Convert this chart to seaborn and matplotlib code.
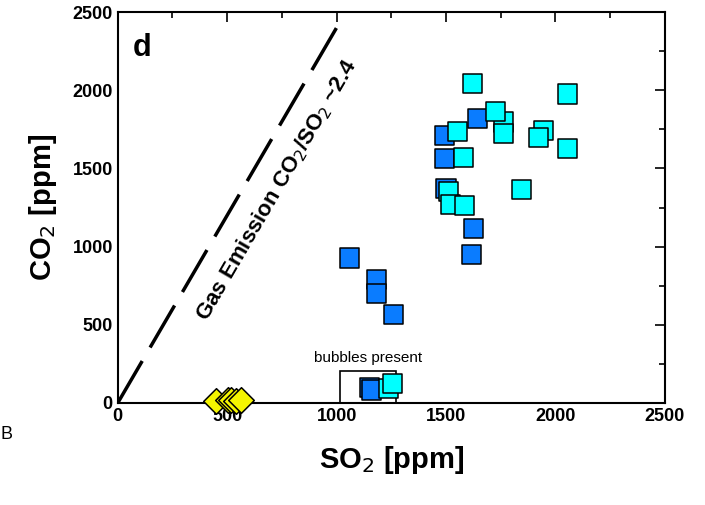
import numpy as np
import pandas as pd
import matplotlib.pyplot as plt
import seaborn as sns
from matplotlib.ticker import MultipleLocator
from matplotlib.patches import Rectangle

# dark blue squares
dark_so2 = [1060, 1182, 1182, 1260, 1624, 1615, 1492, 1492, 1644, 1500, 1149, 1159]
dark_co2 = [927, 791, 700, 567, 1117, 948, 1709, 1562, 1822, 1370, 100, 83]
# cyan squares
cyan_so2 = [1621, 2055, 1763, 1763, 1728, 1553, 1945, 1922, 2055, 1581, 1845, 1511, 1519, 1583, 1236, 1254]
cyan_co2 = [2044, 1976, 1797, 1722, 1862, 1739, 1741, 1700, 1627, 1569, 1366, 1355, 1271, 1262, 90, 126]
# yellow diamonds
yel_so2 = [451, 503, 518, 540, 565]
yel_co2 = [15, 20, 22, 12, 18]
ratio = 2.4

sns.set_style('white')
plt.rcParams['font.family'] = ['Liberation Sans', 'DejaVu Sans']
plt.rcParams['text.color'] = 'black'
plt.rcParams['xtick.color'] = 'black'
plt.rcParams['ytick.color'] = 'black'
plt.rcParams['axes.labelcolor'] = 'black'

fig = plt.figure(figsize=(7.05, 5.05), dpi=100)
ax = fig.add_axes([0.167, 0.202, 0.776, 0.774])

lx = np.array([0, 1015])
ax.plot(lx, ratio * lx, color='black', lw=2.5, dashes=(14, 4.5), zorder=1)

df = pd.concat([
    pd.DataFrame({'so2': dark_so2, 'co2': dark_co2, 'g': 'dark'}),
    pd.DataFrame({'so2': cyan_so2, 'co2': cyan_co2, 'g': 'cyan'}),
])
sns.scatterplot(data=df, x='so2', y='co2', hue='g', palette={'dark': '#0a7cff', 'cyan': '#00ffff'},
                marker='s', s=190, edgecolor='black', linewidth=1.1, legend=False, ax=ax, zorder=3)
sns.scatterplot(x=yel_so2, y=yel_co2, marker='D', s=170, color='#f5f500', edgecolor='black',
                linewidth=1.1, legend=False, ax=ax, zorder=4, clip_on=False)

ax.add_patch(Rectangle((1015, 0), 255, 205, fill=False, edgecolor='black', lw=1.2, zorder=2))
ax.text(1145, 245, 'bubbles present', ha='center', va='bottom', fontsize=11)
ax.text(725, 1360, 'Gas Emission CO$_2$/SO$_2$ ~2.4', rotation=59.8, ha='center', va='center',
        fontsize=16, fontweight='bold', rotation_mode='anchor')
ax.text(70, 2270, 'd', fontsize=22, fontweight='bold', va='center')
fig.text(0.0, 0.14, 'B', fontsize=13, va='center')

ax.set_xlim(0, 2500)
ax.set_ylim(0, 2500)
ax.xaxis.set_major_locator(MultipleLocator(500))
ax.yaxis.set_major_locator(MultipleLocator(500))
ax.xaxis.set_minor_locator(MultipleLocator(250))
ax.yaxis.set_minor_locator(MultipleLocator(250))
ax.tick_params(which='both', direction='in', top=True, right=True, labelsize=13, width=1.2)
ax.tick_params(which='major', length=7)
ax.tick_params(which='minor', length=4)
for lab in ax.get_xticklabels() + ax.get_yticklabels():
    lab.set_fontweight('bold')
for s in ax.spines.values():
    s.set_linewidth(1.5)
    s.set_color('black')
ax.set_xlabel('SO$_2$ [ppm]', fontsize=21, fontweight='bold', labelpad=14)
ax.set_ylabel('CO$_2$ [ppm]', fontsize=21, fontweight='bold', labelpad=10)

fig.savefig('out.png', dpi=100)
